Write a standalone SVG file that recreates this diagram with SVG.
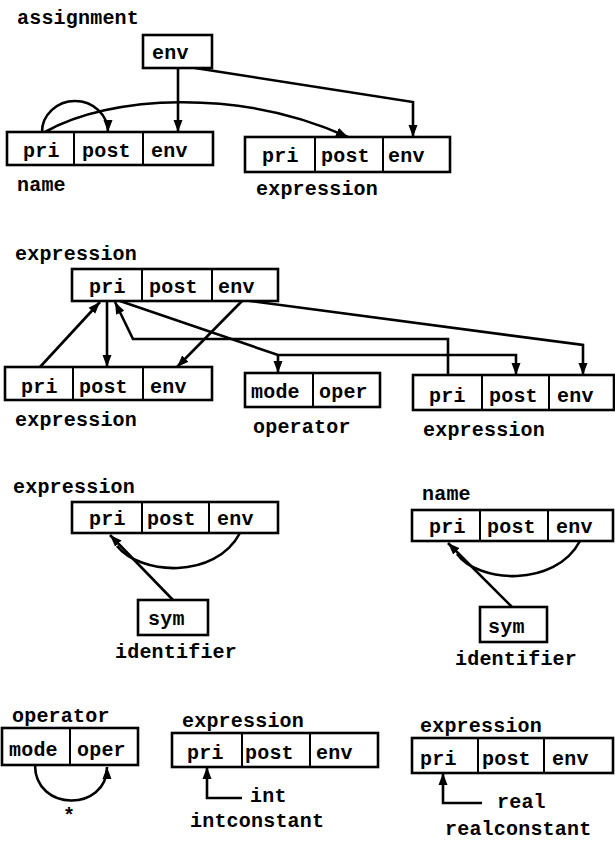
<svg xmlns="http://www.w3.org/2000/svg" width="615" height="841" viewBox="0 0 615 841">
<defs>
<marker id="ah" markerUnits="userSpaceOnUse" markerWidth="13" markerHeight="10" refX="12" refY="5" orient="auto">
<path d="M0,0.5 L12,5 L0,9.5 z" fill="#000"/>
</marker>
<style>
.box{fill:#fff;stroke:#000;stroke-width:2.6}
.dv{stroke:#000;stroke-width:2}
.t{font-family:"Liberation Mono","DejaVu Sans Mono",monospace;font-size:20px;font-weight:bold;letter-spacing:0.2px;fill:#000}
.c{fill:none;stroke:#000;stroke-width:2.6}
.a{marker-end:url(#ah)}
</style>
</defs>
<rect width="615" height="841" fill="#fff"/>
<g id="connectors">
<path class="c a" d="M178,68 L178,132"/>
<path class="c a" d="M195,68 L413,102 L413,137"/>
<path class="c a" d="M42,132 A33,31 0 0 1 108,132"/>
<path class="c a" d="M45,132 C110,95 240,88 348,137"/>
<path class="c a" d="M40,367 L100,302"/>
<path class="c a" d="M107,301 L107,367"/>
<path class="c a" d="M242,301 L177,367"/>
<path class="c a" d="M448,375 L448,339 L133,339 L115,302"/>
<path class="c a" d="M120,301 L278,355 L516,355 L516,375"/>
<path class="c a" d="M278,355 L278,373"/>
<path class="c a" d="M250,301 L583,345 L583,375"/>
<path class="c" d="M240,533 C215,580 140,575 117,546"/>
<path class="c a" d="M173,600 L110,535"/>
<path class="c" d="M580,541 C555,588 478,583 457,554"/>
<path class="c a" d="M512,607 L448,543"/>
<path class="c a" d="M35,765 C35,812 107,812 107,767"/>
<path class="c a" d="M242,798 L207,798 L207,767"/>
<path class="c a" d="M482,803 L443,803 L443,773"/>
</g>
<g id="assignment">
<text class="t" x="17" y="24">assignment</text>
<rect class="box" x="143" y="35" width="69" height="33"/>
<text class="t" x="152" y="59">env</text>
</g>
<g id="name1">
<rect class="box" x="7" y="132" width="206" height="33"/>
<line class="dv" x1="74" y1="132" x2="74" y2="165"/>
<line class="dv" x1="143" y1="132" x2="143" y2="165"/>
<text class="t" x="23" y="157">pri</text>
<text class="t" x="82" y="157">post</text>
<text class="t" x="151" y="157">env</text>
<text class="t" x="17" y="191">name</text>
</g>
<g id="expression1">
<rect class="box" x="245" y="137" width="205" height="35"/>
<line class="dv" x1="315" y1="137" x2="315" y2="172"/>
<line class="dv" x1="383" y1="137" x2="383" y2="172"/>
<text class="t" x="262" y="162">pri</text>
<text class="t" x="321" y="162">post</text>
<text class="t" x="388" y="162">env</text>
<text class="t" x="256" y="195">expression</text>
</g>
<g id="expression2">
<text class="t" x="15" y="260">expression</text>
<rect class="box" x="72" y="269" width="206" height="32"/>
<line class="dv" x1="142" y1="269" x2="142" y2="301"/>
<line class="dv" x1="212" y1="269" x2="212" y2="301"/>
<text class="t" x="89" y="293">pri</text>
<text class="t" x="149" y="293">post</text>
<text class="t" x="218" y="293">env</text>
</g>
<g id="expression3">
<rect class="box" x="5" y="367" width="207" height="33"/>
<line class="dv" x1="73" y1="367" x2="73" y2="400"/>
<line class="dv" x1="143" y1="367" x2="143" y2="400"/>
<text class="t" x="21" y="393">pri</text>
<text class="t" x="79" y="393">post</text>
<text class="t" x="150" y="393">env</text>
<text class="t" x="15" y="426">expression</text>
</g>
<g id="operator1">
<rect class="box" x="245" y="373" width="135" height="34"/>
<line class="dv" x1="313" y1="373" x2="313" y2="407"/>
<text class="t" x="251" y="398">mode</text>
<text class="t" x="319" y="398">oper</text>
<text class="t" x="253" y="433">operator</text>
</g>
<g id="expression4">
<rect class="box" x="413" y="375" width="201" height="35"/>
<line class="dv" x1="482" y1="375" x2="482" y2="410"/>
<line class="dv" x1="549" y1="375" x2="549" y2="410"/>
<text class="t" x="429" y="402">pri</text>
<text class="t" x="489" y="402">post</text>
<text class="t" x="557" y="402">env</text>
<text class="t" x="423" y="436">expression</text>
</g>
<g id="expression5">
<text class="t" x="13" y="493">expression</text>
<rect class="box" x="72" y="502" width="206" height="31"/>
<line class="dv" x1="142" y1="502" x2="142" y2="533"/>
<line class="dv" x1="209" y1="502" x2="209" y2="533"/>
<text class="t" x="89" y="525">pri</text>
<text class="t" x="147" y="525">post</text>
<text class="t" x="217" y="525">env</text>
</g>
<g id="identifier1">
<rect class="box" x="138" y="600" width="70" height="35"/>
<text class="t" x="148" y="625">sym</text>
<text class="t" x="115" y="658">identifier</text>
</g>
<g id="name2">
<text class="t" x="422" y="500">name</text>
<rect class="box" x="412" y="510" width="201" height="31"/>
<line class="dv" x1="480" y1="510" x2="480" y2="541"/>
<line class="dv" x1="548" y1="510" x2="548" y2="541"/>
<text class="t" x="429" y="533">pri</text>
<text class="t" x="487" y="533">post</text>
<text class="t" x="556" y="533">env</text>
</g>
<g id="identifier2">
<rect class="box" x="480" y="607" width="67" height="35"/>
<text class="t" x="488" y="633">sym</text>
<text class="t" x="455" y="665">identifier</text>
</g>
<g id="operator2">
<text class="t" x="12" y="722">operator</text>
<rect class="box" x="2" y="728" width="136" height="37"/>
<line class="dv" x1="70" y1="728" x2="70" y2="765"/>
<text class="t" x="9" y="756">mode</text>
<text class="t" x="77" y="756">oper</text>
<text class="t" x="63" y="822">*</text>
</g>
<g id="intconstant">
<text class="t" x="182" y="727">expression</text>
<rect class="box" x="172" y="733" width="206" height="34"/>
<line class="dv" x1="242" y1="733" x2="242" y2="767"/>
<line class="dv" x1="310" y1="733" x2="310" y2="767"/>
<text class="t" x="187" y="759">pri</text>
<text class="t" x="245" y="759">post</text>
<text class="t" x="316" y="759">env</text>
<text class="t" x="250" y="802">int</text>
<text class="t" x="190" y="827">intconstant</text>
</g>
<g id="realconstant">
<text class="t" x="420" y="732">expression</text>
<rect class="box" x="412" y="738" width="201" height="35"/>
<line class="dv" x1="478" y1="738" x2="478" y2="773"/>
<line class="dv" x1="544" y1="738" x2="544" y2="773"/>
<text class="t" x="420" y="765">pri</text>
<text class="t" x="482" y="765">post</text>
<text class="t" x="552" y="765">env</text>
<text class="t" x="497" y="808">real</text>
<text class="t" x="445" y="835">realconstant</text>
</g>
</svg>
